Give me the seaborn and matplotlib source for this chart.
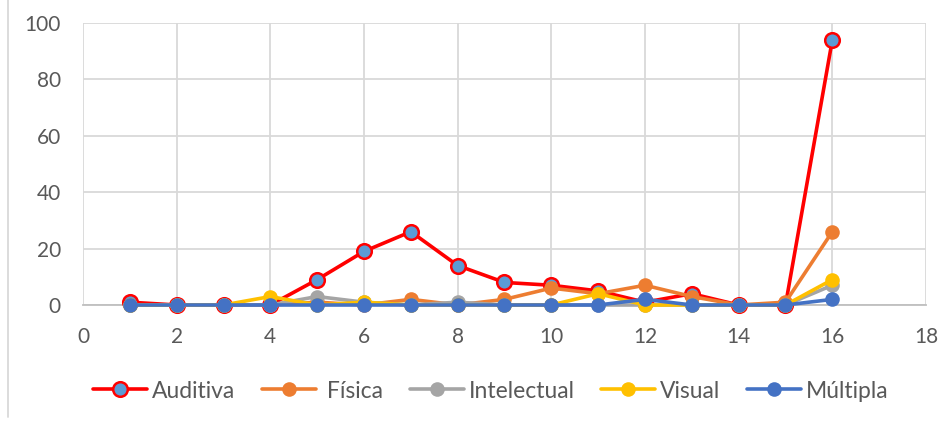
import matplotlib
matplotlib.use("Agg")
import matplotlib.pyplot as plt
import seaborn as sns
from matplotlib.lines import Line2D

x = list(range(1, 17))
auditiva =    [1, 0, 0, 0, 9, 19, 26, 14, 8, 7, 5, 1, 4, 0, 0, 94]
fisica =      [0, 0, 0, 0, 1, 0, 2, 0, 2, 6, 4, 7, 3, 0, 1, 26]
intelectual = [0, 0, 0, 0, 3, 1, 0, 1, 0, 0, 0, 0, 0, 0, 0, 7]
visual =      [0, 0, 0, 3, 0, 1, 0, 0, 0, 0, 4, 0, 0, 0, 0, 9]
multipla =    [0, 0, 0, 0, 0, 0, 0, 0, 0, 0, 0, 2, 0, 0, 0, 2]

labels = ["Auditiva", " Física", "Intelectual", "Visual", "Múltipla"]
series = [auditiva, fisica, intelectual, visual, multipla]
colors = ["#FF0000", "#ED7D31", "#A5A5A5", "#FFC000", "#4472C4"]
faces = ["#5B9BD5", "#ED7D31", "#A5A5A5", "#FFC000", "#4472C4"]

xticks = [0, 2, 4, 6, 8, 10, 12, 14, 16, 18]
yticks = [0, 20, 40, 60, 80, 100]

sns.set_theme(style="white")
plt.rcParams['font.family'] = ['Lato', 'DejaVu Sans']

fig = plt.figure(figsize=(9.41, 4.21), dpi=100)
ax = fig.add_axes([83/941, 1-305/421, (926-83)/941, (305-23)/421])

for vals, lab, c, f in zip(series, labels, colors, faces):
    sns.lineplot(x=x, y=vals, ax=ax, color=c, linewidth=2.6, marker="o",
                 markersize=10.5, markerfacecolor=f,
                 markeredgecolor=c, markeredgewidth=1.8 if lab == "Auditiva" else 0,
                 label=lab, clip_on=False, zorder=3)

ax.set_xlim(0, 18)
ax.set_ylim(0, 100)
ax.set_xticks(xticks)
ax.set_yticks(yticks)
ax.grid(True, color="#D9D9D9", linewidth=1.3)
ax.set_axisbelow(True)
for s in ["top", "right", "left"]:
    ax.spines[s].set_visible(False)
ax.spines["bottom"].set_color("#BFBFBF")
ax.spines["bottom"].set_linewidth(1.3)
ax.tick_params(axis="both", length=0, labelsize=15, labelcolor="#595959", pad=16)
ax.set_xlabel("")
ax.set_ylabel("")

leg = ax.legend(loc="center", bbox_to_anchor=((491 - 83) / 843, (305 - 391) / 282), ncol=5,
                frameon=False, fontsize=16.5, handlelength=2.35, handletextpad=0.22,
                columnspacing=1.17, labelcolor="#595959", borderaxespad=0, borderpad=0)

fig.add_artist(Line2D([7.5/941, 7.5/941], [1-417/421, 1.0], color="#D9D9D9", linewidth=1.3))

fig.savefig("out.png", dpi=100)
